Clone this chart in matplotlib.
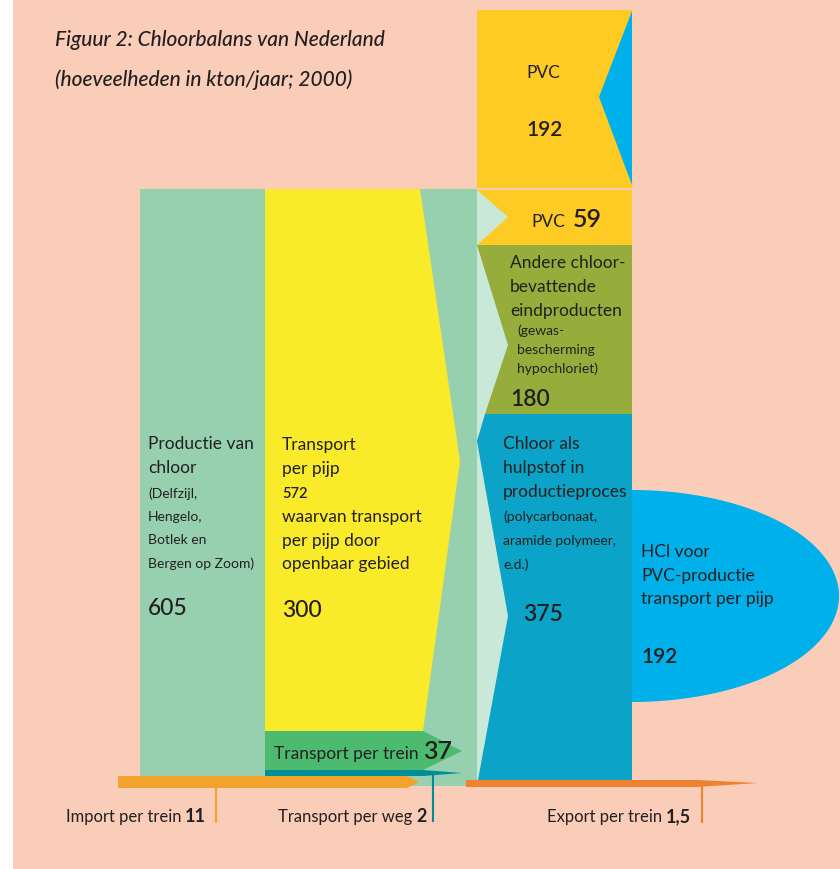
import numpy as np
import matplotlib.pyplot as plt
from matplotlib.patches import Polygon, Rectangle

plt.rcParams['font.family'] = ['Lato', 'DejaVu Sans']

# chloorbalans 2000, kton/jaar
source_names = ['Productie van chloor', 'Transport per pijp', 'waarvan door openbaar gebied', 'Transport per trein']
source_values = [605, 572, 300, 37]
use_names = ['PVC', 'PVC', 'Andere chloorbevattende eindproducten',
             'Chloor als hulpstof in productieproces', 'HCl voor PVC-productie']
use_values = [192, 59, 180, 375, 192]
edge_names = ['Import per trein', 'Transport per weg', 'Export per trein']
edge_values = [11, 2, 1.5]


def fmt(v):
    return f'{v:g}'.replace('.', ',')


BG = '#F9CDB8'
GREEN = '#96D0AE'
LIGHTGREEN = '#C9E8D8'
YELLOW = '#F9EA2A'
PVCYEL = '#FDCB24'
BLUE = '#00B0EB'
OLIVE = '#97AD3B'
TEAL = '#0BA3C7'
RAIL = '#4DBB6F'
ROAD = '#008E96'
IMPORT = '#F3A32B'
EXPORT = '#F08130'
TXT = '#231F20'

fig = plt.figure(figsize=(8.4, 8.7), dpi=100, facecolor='white')
ax = fig.add_axes([0, 0, 1, 1])
ax.set_xlim(0, 840)
ax.set_ylim(870, 0)
ax.axis('off')
rend = fig.canvas.get_renderer()


def poly(pts, color, z=1):
    ax.add_patch(Polygon(pts, closed=True, fc=color, ec='none', zorder=z))


ax.add_patch(Rectangle((13, 0), 827, 870, fc=BG, ec='none', zorder=0))

# production column and pipe transport
poly([(140, 190), (477, 190), (477, 787), (140, 787)], GREEN)
poly([(265, 190), (420, 190), (460, 462), (423, 732), (265, 732)], YELLOW, 2)
poly([(265, 732), (423, 732), (462, 752), (423, 771), (265, 771)], RAIL, 2)
poly([(265, 771), (423, 771), (462, 774), (423, 777), (265, 777)], ROAD, 2)

# destinations
poly([(477, 191), (512, 191), (512, 781), (477, 781)], LIGHTGREEN, 1)
poly([(477, 11), (632, 11), (632, 189), (477, 189)], PVCYEL, 2)
poly([(632, 12), (599, 98), (632, 186)], BLUE, 3)
poly([(477, 191), (632, 191), (632, 246), (477, 246), (508, 218)], PVCYEL, 2)
poly([(477, 246), (632, 246), (632, 415), (485, 415), (508, 346)], OLIVE, 2)
poly([(485, 415), (632, 415), (632, 781), (478, 781), (508, 617), (477, 442)], TEAL, 2)

t = np.linspace(-np.pi / 2, np.pi / 2, 200)
poly(np.column_stack([632 + 207 * np.cos(t), 597 + 106 * np.sin(t)]), BLUE, 2)

# import / export / road
poly([(118, 777), (407, 777), (419, 783), (407, 789), (118, 789)], IMPORT, 4)
poly([(466, 781), (697, 781), (758, 784), (697, 788), (466, 788)], EXPORT, 4)
ax.plot([216, 216], [789, 823], color=IMPORT, lw=1.5, zorder=4)
ax.plot([433, 433], [774, 822], color=ROAD, lw=1.5, zorder=4)
ax.plot([702, 702], [788, 823], color=EXPORT, lw=1.5, zorder=4)

BIG = 12.5
SMALL = 10
NUM = 16.5


def txt(x, y, s, size=BIG, weight='normal', **kw):
    return ax.text(x, y, s, fontsize=size, fontweight=weight, color=TXT,
                   va='baseline', ha='left', zorder=5, **kw)


def run(x, y, parts, ha='left', gap=4):
    items = [txt(0, y, s, size, w) for s, size, w in parts]
    widths = [it.get_window_extent(rend).width for it in items]
    x0 = x - (sum(widths) + gap * (len(items) - 1)) if ha == 'right' else x
    for it, w in zip(items, widths):
        it.set_x(x0)
        x0 += w + gap


txt(55, 46, 'Figuur 2: Chloorbalans van Nederland', 15, 'medium', style='italic')
txt(55, 86, '(hoeveelheden in kton/jaar; 2000)', 15, 'medium', style='italic')

# productie
txt(148, 449, 'Productie van')
txt(148, 473, 'chloor')
for yy, s in zip([498, 521, 544, 568], ['(Delfzijl,', 'Hengelo,', 'Botlek en', 'Bergen op Zoom)']):
    txt(148, yy, s, SMALL)
txt(148, 615, fmt(source_values[0]), NUM, 'medium')

# transport per pijp
txt(282, 450, 'Transport')
txt(282, 474, 'per pijp')
txt(282, 498, fmt(source_values[1]), SMALL + 0.5, 'semibold')
for yy, s in zip([522, 546, 569], ['waarvan transport', 'per pijp door', 'openbaar gebied']):
    txt(282, yy, s)
txt(282, 617, fmt(source_values[2]), NUM, 'medium')

run(274, 759, [('Transport per trein', BIG, 'normal'), (fmt(source_values[3]), 18, 'semibold')])

# uses
txt(526, 78, use_names[0])
txt(526, 136, fmt(use_values[0]), 15, 'semibold')
run(531, 227, [(use_names[1], BIG, 'normal'), (fmt(use_values[1]), 18, 'semibold')], gap=8)

for yy, s in zip([268, 292, 316], ['Andere chloor-', 'bevattende', 'eindproducten']):
    txt(510, yy, s)
for yy, s in zip([335, 354, 373], ['(gewas-', 'bescherming', 'hypochloriet)']):
    txt(517, yy, s, SMALL)
txt(510, 406, fmt(use_values[2]), NUM, 'semibold')

for yy, s in zip([449, 473, 497], ['Chloor als', 'hulpstof in', 'productieproces']):
    txt(503, yy, s)
for yy, s in zip([521, 545, 569], ['(polycarbonaat,', 'aramide polymeer,', 'e.d.)']):
    txt(503, yy, s, SMALL)
txt(523, 621, fmt(use_values[3]), NUM, 'semibold')

for yy, s in zip([557, 581, 604], ['HCl voor', 'PVC-productie', 'transport per pijp']):
    txt(641, yy, s)
txt(641, 663, fmt(use_values[4]), 15, 'semibold')

# bottom labels
for xe, name, v in zip([206, 427, 691], edge_names, edge_values):
    run(xe, 822, [(name, 12, 'normal'), (fmt(v), 13, 'bold')], ha='right')

fig.savefig('out.png', dpi=100, facecolor='white')
